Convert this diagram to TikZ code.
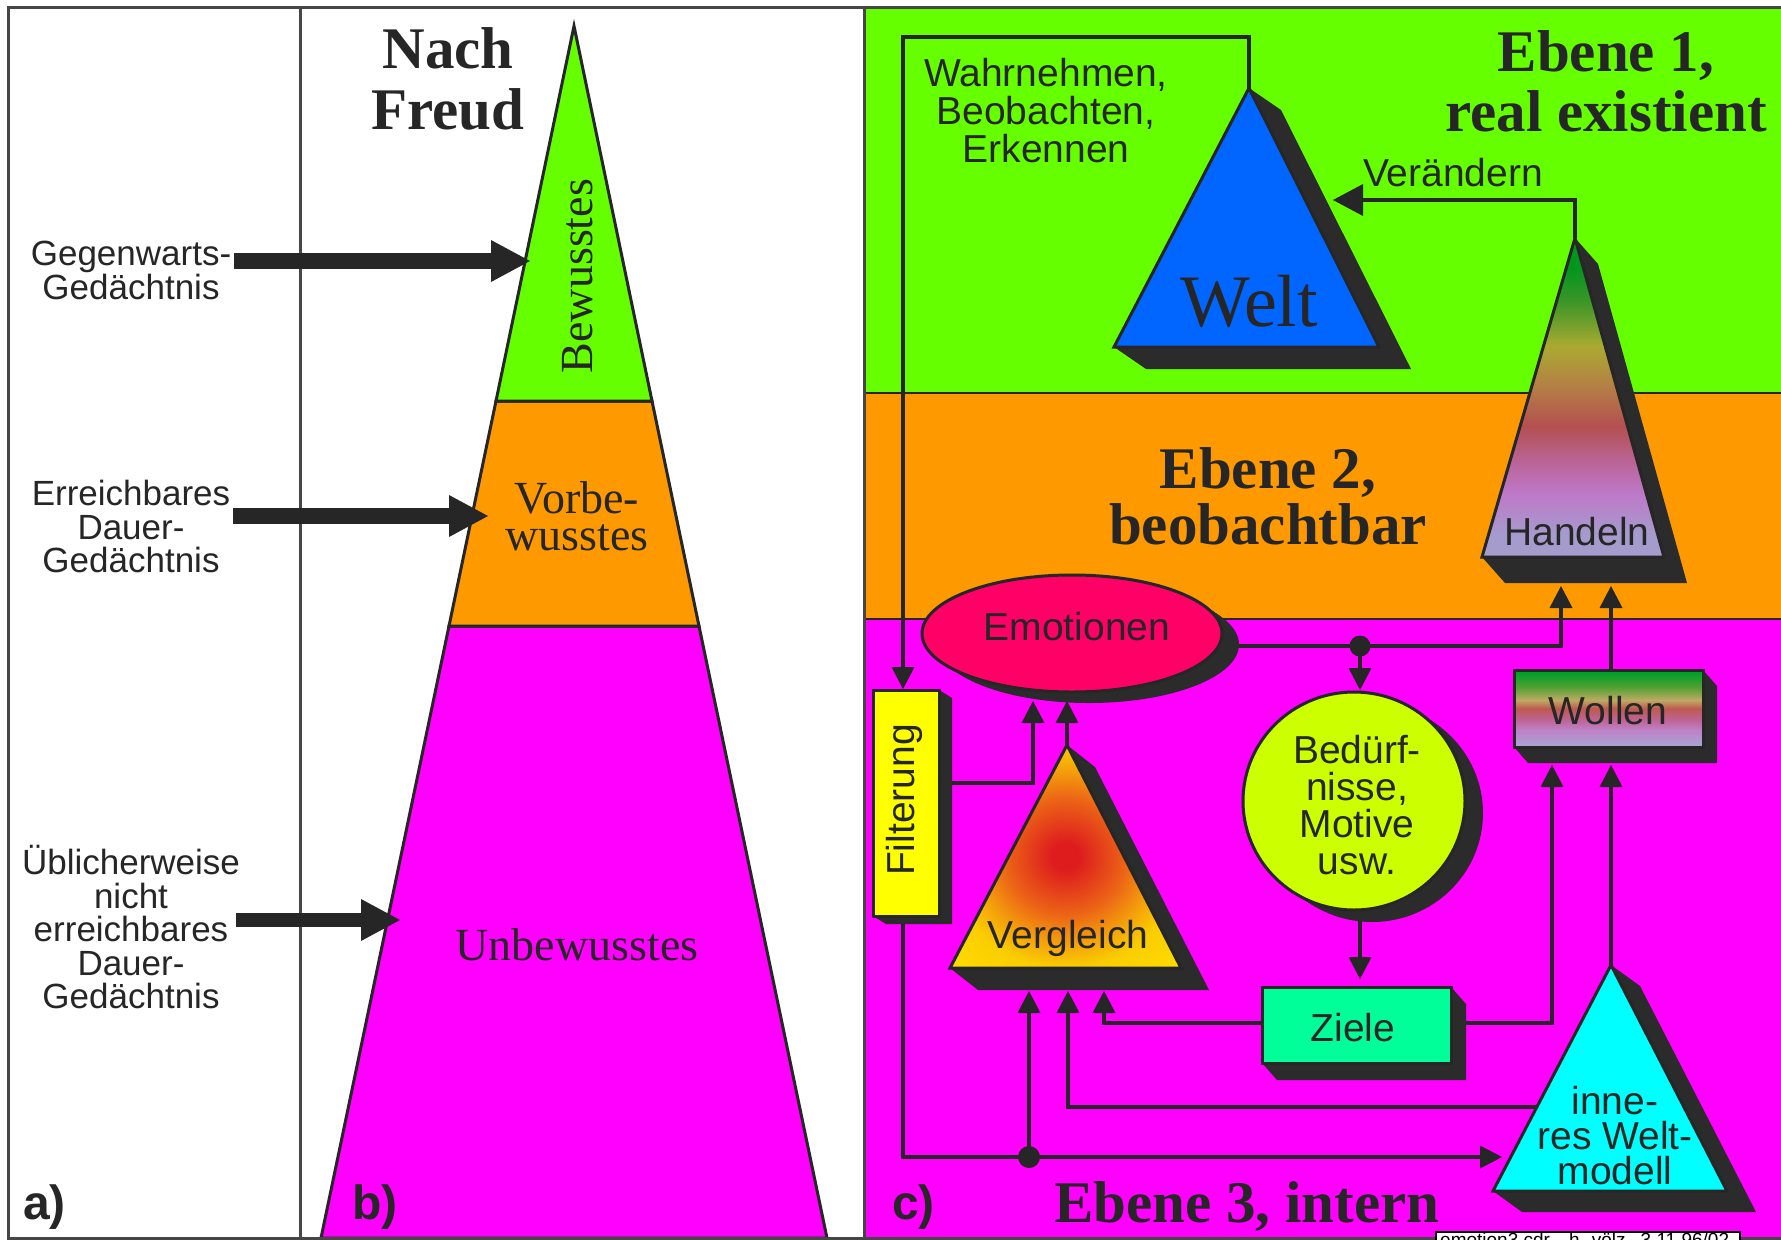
\documentclass[tikz,border=0pt]{standalone}
\usepackage{fontspec}
\usetikzlibrary{arrows.meta,calc}
\newfontfamily\labsans{Liberation Sans}
\newfontfamily\labserif{Liberation Serif}
\newcommand\linestight{\lineskiplimit=-40pt\relax\lineskip=0pt\relax}

% basic palette
\definecolor{ink}{RGB}{38,38,38}
\definecolor{solidgray}{RGB}{43,43,43}
\definecolor{framegray}{RGB}{70,70,70}
\definecolor{levelone}{RGB}{102,255,0}
\definecolor{leveltwo}{RGB}{255,153,0}
\definecolor{levelthree}{RGB}{255,0,255}
\definecolor{weltblue}{RGB}{0,102,255}
\definecolor{emored}{RGB}{255,0,102}
\definecolor{filtyellow}{RGB}{255,255,0}
\definecolor{bedlime}{RGB}{204,255,0}
\definecolor{zielmint}{RGB}{0,255,153}
\definecolor{modcyan}{RGB}{0,255,255}
% Handeln fountain fill
\definecolor{hA}{RGB}{0,150,30}
\definecolor{hB}{RGB}{60,150,40}
\definecolor{hC}{RGB}{170,170,50}
\definecolor{hD}{RGB}{180,125,70}
\definecolor{hE}{RGB}{180,80,80}
\definecolor{hF}{RGB}{185,100,150}
\definecolor{hG}{RGB}{190,120,200}
\definecolor{hH}{RGB}{165,155,205}
% Wollen fountain fill
\definecolor{wA}{RGB}{0,160,40}
\definecolor{wB}{RGB}{80,160,50}
\definecolor{wC}{RGB}{190,170,100}
\definecolor{wD}{RGB}{190,90,80}
\definecolor{wE}{RGB}{190,100,150}
\definecolor{wF}{RGB}{190,130,200}
\definecolor{wG}{RGB}{170,160,210}
% Vergleich radial fill
\definecolor{vA}{RGB}{222,28,30}
\definecolor{vB}{RGB}{236,100,22}
\definecolor{vC}{RGB}{245,165,10}
\definecolor{vD}{RGB}{250,205,0}
\definecolor{vE}{RGB}{255,220,0}

\pgfdeclareverticalshading{handelnfill}{100bp}{color(0bp)=(hH); color(28.5bp)=(hH); color(35bp)=(hG); color(40bp)=(hF); color(45.5bp)=(hE); color(51.5bp)=(hD); color(58bp)=(hC); color(65bp)=(hB); color(70.5bp)=(hA); color(100bp)=(hA)}
\pgfdeclareverticalshading{wollenfill}{100bp}{color(0bp)=(wG); color(27bp)=(wG); color(36bp)=(wF); color(42.5bp)=(wE); color(50bp)=(wD); color(55.5bp)=(wC); color(64bp)=(wB); color(73bp)=(wA); color(100bp)=(wA)}
\pgfdeclareradialshading{vergleichfill}{\pgfpointorigin}{color(0bp)=(vA); color(3bp)=(vA); color(13bp)=(vB); color(20bp)=(vC); color(25bp)=(vD); color(35bp)=(vE); color(50bp)=(vE)}

\tikzset{
  outline/.style={draw=ink, line width=3pt},
  solid3d/.style={fill=solidgray},
  conn/.style={draw=ink, line width=4.5pt},
  dotjoin/.style={fill=ink},
  frameline/.style={draw=framegray, line width=3pt},
  bandline/.style={draw=ink, line width=2.5pt},
  sidelabel/.style={font=\labsans\fontsize{35}{33.5}\selectfont\linestight, text=ink, align=center, inner sep=0pt},
  boxlabel/.style={font=\labsans\fontsize{39}{37}\selectfont\linestight, text=ink, align=center, inner sep=0pt},
  layerlabel/.style={font=\labserif\fontsize{46}{37}\selectfont\linestight, text=ink, align=center, inner sep=0pt},
  headline/.style={font=\labserif\bfseries\fontsize{59}{60}\selectfont\linestight, text=ink, align=center, inner sep=0pt},
  panellabel/.style={font=\labsans\bfseries\fontsize{48}{50}\selectfont, text=ink, inner sep=0pt},
  blockarrow/.style={draw=ink, line width=#1, -{Triangle[width=42pt,length=39pt,line width=0pt]}},
}

\begin{document}
\begin{tikzpicture}[x=1pt, y=-1pt, line join=miter,
  >={Triangle[width=23pt,length=22pt,line width=0pt]}]
\useasboundingbox (0,0) rectangle (1781,1240);
\clip (0,0) rectangle (1781,1240);
\fill[white] (0,0) rectangle (1781,1240);

% ---------- level bands of panel c ----------
\fill[levelone]   (864,7)   rectangle (1795,393);
\fill[leveltwo]   (864,393) rectangle (1795,619);
\fill[levelthree] (864,619) rectangle (1795,1238);
\draw[bandline] (864,393) -- (1795,393);
\draw[bandline] (864,619) -- (1795,619);

% ---------- Freud's pyramid (panel b) ----------
\coordinate (fA)  at (574,26);
\coordinate (f1L) at (496,401);
\coordinate (f1R) at (652,401);
\coordinate (f2L) at (449,626);
\coordinate (f2R) at (699,626);
\coordinate (f3L) at (321,1238);
\coordinate (f3R) at (827,1238);
\filldraw[outline, fill=levelthree] (f2L) -- (f2R) -- (f3R) -- (f3L) -- cycle;
\filldraw[outline, fill=leveltwo] (f1L) -- (f1R) -- (f2R) -- (f2L) -- cycle;
\filldraw[outline, fill=levelone] (fA) -- (f1R) -- (f1L) -- cycle;

% ---------- frame ----------
\draw[frameline] (1795,7) -- (8,7) -- (8,1238) -- (1795,1238);
\draw[frameline] (300,7) -- (300,1238);
\draw[frameline] (864,7) -- (864,1238);

% ---------- panel a: memory labels with block arrows ----------
\node[sidelabel, anchor=north] (memnow) at (131,241) {Gegenwarts-\\Gedächtnis};
\node[sidelabel, anchor=north] (memreach) at (131,480) {Erreichbares\\Dauer-\\Gedächtnis};
\node[sidelabel, anchor=north] (memdeep) at (131,845) {Üblicherweise\\nicht\\erreichbares\\Dauer-\\Gedächtnis};
\coordinate (tipnow)   at (530,261);
\coordinate (tipreach) at (488,516);
\coordinate (tipdeep)  at (400,920);
\draw[blockarrow=16pt] ([xshift=3pt]memnow.east |- tipnow) -- (tipnow);
\draw[blockarrow=16pt] ([xshift=3pt]memreach.east |- tipreach) -- (tipreach);
\draw[blockarrow=14pt] ([xshift=-4pt]memdeep.east |- tipdeep) -- (tipdeep);

% ---------- panel b texts ----------
\node[headline, anchor=north, font=\labserif\bfseries\fontsize{59}{61}\selectfont\linestight] (freudtitle) at (448,27) {Nach\\Freud};
\node[layerlabel, rotate=90, anchor=base] (consc) at (592,276) {Bewusstes};
\node[layerlabel, anchor=north] (precons) at (577,481) {Vorbe-\\wusstes};
\node[layerlabel, anchor=base] (uncons) at (577,960) {Unbewusstes};

% ---------- panel c geometry ----------
\coordinate (weltA) at (1249,88);
\coordinate (weltB) at (1114,347);
\coordinate (weltC) at (1379,347);
\coordinate (handA) at (1575,238);
\coordinate (handB) at (1482,557);
\coordinate (handC) at (1664,557);
\coordinate (vglA)  at (1067,745);
\coordinate (vglB)  at (950,968);
\coordinate (vglC)  at (1181,968);
\coordinate (modA)  at (1611,965);
\coordinate (modB)  at (1493,1191);
\coordinate (modC)  at (1727,1191);
\coordinate (emoC)  at (1072,633.5);
\coordinate (bedC)  at (1354,801);
\coordinate (filtNE) at (939,690);
\coordinate (filtSW) at (873,916);
\coordinate (zielNE) at (1451,987);
\coordinate (zielSW) at (1262,1063);
\coordinate (wolNE)  at (1703,670);
\coordinate (wolSW)  at (1514,747);

% connector end points
\coordinate (loopTop)  at (903,37);
\coordinate (filtIn)   at (903,689);
\coordinate (weltIn)   at (1333,200);
\coordinate (filtOut)  at (939,783);
\coordinate (emoIn1)   at (1033,701);
\coordinate (emoIn2)   at (1067,701);
\coordinate (emoOut)   at (1200,646);
\coordinate (fork1)    at (1360,646);
\coordinate (bedIn)    at (1360,690);
\coordinate (handIn1)  at (1561,586);
\coordinate (handIn2)  at (1611,586);
\coordinate (wolOut)   at (1611,672);
\coordinate (bedOut)   at (1360,915);
\coordinate (zielIn)   at (1360,979);
\coordinate (zielOutL) at (1264,1023);
\coordinate (zielOutR) at (1450,1023);
\coordinate (vglIn1)   at (1029,991);
\coordinate (vglIn2)   at (1068,991);
\coordinate (vglIn3)   at (1104,991);
\coordinate (wolIn1)   at (1552,765);
\coordinate (wolIn2)   at (1611,765);
\coordinate (modOutL)  at (1550,1107);
\coordinate (filtOutB) at (903,914);
\coordinate (fork2)    at (1029,1157);
\coordinate (modIn)    at (1502,1157);

% ---------- connectors ----------
\draw[conn, ->] (weltA) |- (loopTop) -- (filtIn);
\draw[conn, -{Triangle[width=32pt,length=30pt,line width=0pt]}] (handA) |- (weltIn);
\draw[conn, ->] (filtOut) -| (emoIn1);
\draw[conn, ->] (vglA) -- (emoIn2);
\draw[conn, ->] (emoOut) -| (handIn1);
\draw[conn, ->] (fork1) -- (bedIn);
\draw[conn, ->] (wolOut) -- (handIn2);
\draw[conn, ->] (bedOut) -- (zielIn);
\draw[conn, ->] (zielOutL) -| (vglIn3);
\draw[conn, ->] (zielOutR) -| (wolIn1);
\draw[conn, ->] (modA) -- (wolIn2);
\draw[conn, ->] (modOutL) -| (vglIn2);
\draw[conn, ->] (filtOutB) |- (modIn);
\draw[conn, ->] (fork2) -- (vglIn1);
\fill[dotjoin] (fork1) circle (10.5);
\fill[dotjoin] (fork2) circle (11);

% ---------- Welt ----------
\fill[solid3d] (weltA) -- ($(weltA)+(32,22)$) -- ($(weltC)+(32,22)$) -- ($(weltB)+(32,22)$) -- (weltB) -- cycle;
\filldraw[outline, fill=weltblue] (weltA) -- (weltC) -- (weltB) -- cycle;

% ---------- Handeln ----------
\fill[solid3d] (handA) -- ($(handA)+(23,26)$) -- ($(handC)+(23,26)$) -- ($(handB)+(23,26)$) -- (handB) -- cycle;
\shade[shading=handelnfill] (handA) -- (handC) -- (handB) -- cycle;
\draw[outline] (handA) -- (handC) -- (handB) -- cycle;

% ---------- Emotionen ----------
\foreach \t in {0,0.1,...,1.01}
  \fill[solid3d] ($(emoC)+\t*(17,11)$) ellipse [x radius=150, y radius=58.5];
\filldraw[outline, fill=emored] (emoC) ellipse [x radius=150, y radius=58.5];

% ---------- Filterung ----------
\fill[solid3d] (filtNE) -- ++(13,8) |- ($(filtSW)+(13,8)$) -- (filtSW) -- cycle;
\filldraw[outline, fill=filtyellow] (filtNE) rectangle (filtSW);

% ---------- Vergleich ----------
\fill[solid3d] (vglA) -- ($(vglA)+(28,22)$) -- ($(vglC)+(28,22)$) -- ($(vglB)+(28,22)$) -- (vglB) -- cycle;
\shade[shading=vergleichfill] (vglA) -- (vglC) -- (vglB) -- cycle;
\draw[outline] (vglA) -- (vglC) -- (vglB) -- cycle;

% ---------- Bedürfnisse ----------
\foreach \t in {0,0.1,...,1.01}
  \fill[solid3d] ($(bedC)+\t*(18,12)$) ellipse [x radius=111, y radius=109];
\filldraw[outline, fill=bedlime] (bedC) ellipse [x radius=111, y radius=109];

% ---------- Ziele ----------
\fill[solid3d] (zielNE) -- ++(15,17) |- ($(zielSW)+(15,17)$) -- (zielSW) -- cycle;
\filldraw[outline, fill=zielmint] (zielNE) rectangle (zielSW);

% ---------- Wollen ----------
\fill[solid3d] (wolNE) -- ++(14,16) |- ($(wolSW)+(14,16)$) -- (wolSW) -- cycle;
\shade[shading=wollenfill] (wolNE) rectangle (wolSW);
\draw[outline] (wolNE) rectangle (wolSW);

% ---------- inneres Weltmodell ----------
\fill[solid3d] (modA) -- ($(modA)+(29,21)$) -- ($(modC)+(29,21)$) -- ($(modB)+(29,21)$) -- (modB) -- cycle;
\filldraw[outline, fill=modcyan] (modA) -- (modC) -- (modB) -- cycle;

% ---------- panel c texts ----------
\node[headline, anchor=north] (lvlone) at (1606,30) {Ebene 1,\\real existient};
\node[headline, anchor=north, font=\labserif\bfseries\fontsize{59}{56}\selectfont\linestight] (lvltwo) at (1268,447) {Ebene 2,\\beobachtbar};
\node[headline, anchor=base west] (lvlthree) at (1054,1222) {Ebene 3, intern};

\node[boxlabel, anchor=north, font=\labsans\fontsize{39}{38}\selectfont\linestight] (perceive) at (1046,58) {Wahrnehmen,\\Beobachten,\\Erkennen};
\node[boxlabel, anchor=base] (change) at (1453,186) {Verändern};
\node[font=\labserif\fontsize{74}{80}\selectfont, text=ink, anchor=base, inner sep=0pt] (welt) at (1249,326) {Welt};
\node[boxlabel, anchor=base] (act) at (1577,545) {Handeln};
\node[boxlabel, anchor=base] (emo) at (1077,640) {Emotionen};
\node[boxlabel, rotate=90, anchor=center] (filt) at (904,800) {Filterung};
\node[boxlabel, anchor=north] (needs) at (1357,735) {Bedürf-\\nisse,\\Motive\\usw.};
\node[boxlabel, anchor=base] (cmp) at (1068,948) {Vergleich};
\node[boxlabel, anchor=base] (goals) at (1353,1041) {Ziele};
\node[boxlabel, anchor=base] (will) at (1608,724) {Wollen};
\node[boxlabel, anchor=north, font=\labsans\fontsize{39}{35}\selectfont\linestight] (model) at (1615,1086) {inne-\\res Welt-\\modell};

% ---------- panel letters ----------
\node[panellabel, anchor=base west] (pa) at (23,1219) {a)};
\node[panellabel, anchor=base west] (pb) at (352,1219) {b)};
\node[panellabel, anchor=base west] (pc) at (892,1219) {c)};

% ---------- file stamp ----------
\filldraw[fill=white, draw=black, line width=2pt] (1436,1232) rectangle (1740,1270);
\node[font=\labsans\fontsize{19}{20}\selectfont, text=black, anchor=base west, inner sep=0pt] (stamp) at (1440,1246) {emotion3.cdr\hspace{19pt}h. völz\hspace{15pt}3.11.96/02};
\end{tikzpicture}
\end{document}
